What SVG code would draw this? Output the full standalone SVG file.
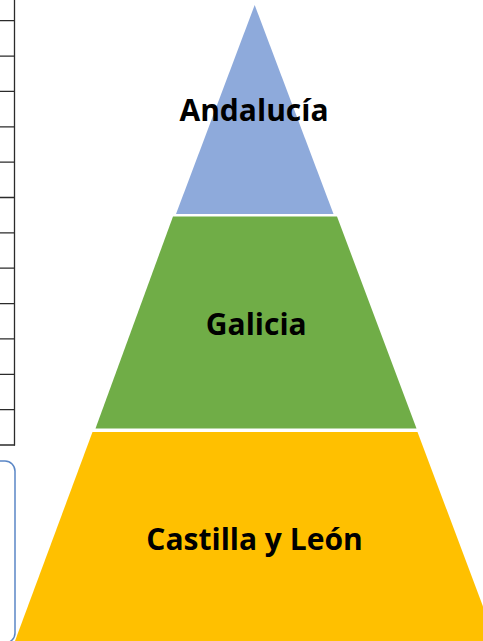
<svg xmlns="http://www.w3.org/2000/svg" width="483" height="641" viewBox="0 0 483 641">
  <style>
    .lbl { font-family: "Open Sans", "Liberation Sans", sans-serif; font-weight: bold; font-size: 30px; fill: #000; text-anchor: middle; }
    .grid { stroke: #2b2b2b; stroke-width: 1.3; fill: none; }
  </style>
  <rect x="0" y="0" width="483" height="641" fill="#ffffff"/>
  <g id="table-fragment">
    <line class="grid" x1="14.5" y1="0" x2="14.5" y2="445.5"/>
    <path class="grid" d="M0 20.7H15 M0 56.1H15 M0 91.4H15 M0 126.8H15 M0 162.1H15 M0 197.5H15 M0 232.9H15 M0 268.2H15 M0 303.6H15 M0 338.9H15 M0 374.3H15 M0 409.6H15 M0 445H15"/>
  </g>
  <g id="box-fragment">
    <rect x="-30" y="461" width="45" height="182" rx="10" ry="10" fill="none" stroke="#5b87c6" stroke-width="1.5"/>
  </g>
  <g id="level-andalucia">
    <polygon points="254.7,5 333.5,214 176,214" fill="#8eaadb"/>
    <text class="lbl" x="254" y="120.5">Andalucía</text>
  </g>
  <g id="level-galicia">
    <polygon points="173,216.5 337,216.5 416.5,428.5 95.5,428.5" fill="#70ad47"/>
    <text class="lbl" x="256.3" y="335">Galicia</text>
  </g>
  <g id="level-castilla">
    <polygon points="92.5,432 417.5,432 496,641 15,641" fill="#ffc000"/>
    <text class="lbl" x="254.5" y="550">Castilla y León</text>
  </g>
  <g id="connectors"></g>
</svg>
